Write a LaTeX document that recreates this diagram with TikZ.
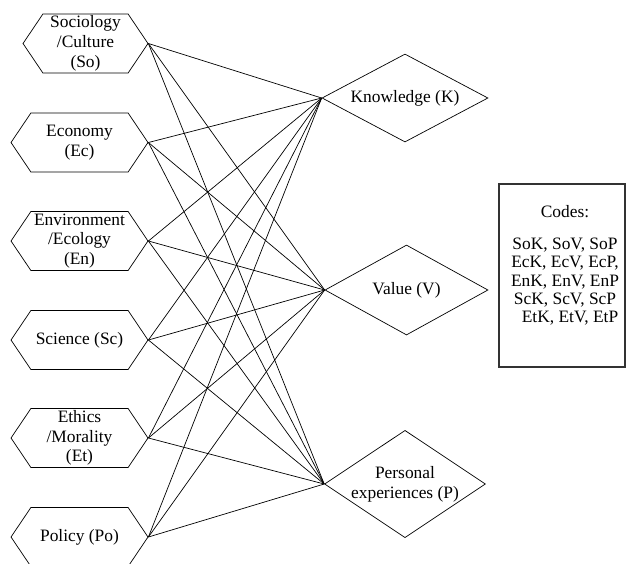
\documentclass[tikz,border=0pt]{standalone}
\usepackage{fontspec}
\setmainfont{Liberation Serif}
\newfontfamily\diagfont{Liberation Serif}
\usetikzlibrary{shapes.geometric,shapes.symbols}

\tikzset{
  factor/.style={draw, signal, signal to=east and west, signal pointer angle=112,
    minimum width=137pt, minimum height=59pt, inner sep=0pt, align=center,
    font=\diagfont\fontsize{17.4}{19.7}\selectfont},
  aspectnode/.style={draw, diamond, inner sep=0pt, align=center,
    font=\diagfont\fontsize{17.4}{19.7}\selectfont},
  codebox/.style={draw=black!80, line width=1.1pt, minimum width=126pt,
    minimum height=183pt, inner sep=0pt}
}

\begin{document}
\begin{tikzpicture}[x=1pt, y=-1pt, line width=0.7pt]
    \useasboundingbox (0,0) rectangle (626,563);
    \clip (0,0) rectangle (626,563);

    % Factors
    \node[factor, minimum width=125pt] (so) at (85.5,43.5) {Sociology\\/Culture\\(So)};
    \node[factor] (ec) at (79.5,142.5) {Economy\\(Ec)};
    \node[factor] (en) at (79.5,241) {Environment\\/Ecology\\(En)};
    \node[factor] (sc) at (79.5,340) {Science (Sc)};
    \node[factor] (et) at (79.5,438) {Ethics\\/Morality\\(Et)};
    \node[factor] (po) at (79.5,537) {Policy (Po)};

    % Aspects
    \node[aspectnode, aspect=1.89, minimum width=166pt, minimum height=88pt] (know) at (405,98) {Knowledge (K)};
    \node[aspectnode, aspect=1.81, minimum width=163pt, minimum height=90pt] (val) at (406.5,290) {Value (V)};
    \node[aspectnode, aspect=1.5, minimum width=156pt, minimum height=104pt] (pers) at (405,484) {Personal\\experiences (P)};

    % Links
    \foreach \f in {so,ec,en,sc,et,po}
        \foreach \a in {know,val,pers}
            \draw (\f.east) -- (\a.west);

    % Codes
    \node[codebox] (codes) at (562,275.5) {};
    \node[anchor=north, align=center, inner sep=0pt, font=\diagfont\fontsize{17.4}{18.3}\selectfont]
        (codelist) at ([xshift=3pt, yshift=-22pt]codes.north)
        {Codes:\\[13.4pt] SoK, SoV, SoP\\ EcK, EcV, EcP,\\ EnK, EnV, EnP\\ ScK, ScV, ScP\\ \hspace{10pt}EtK, EtV, EtP};
\end{tikzpicture}
\end{document}
